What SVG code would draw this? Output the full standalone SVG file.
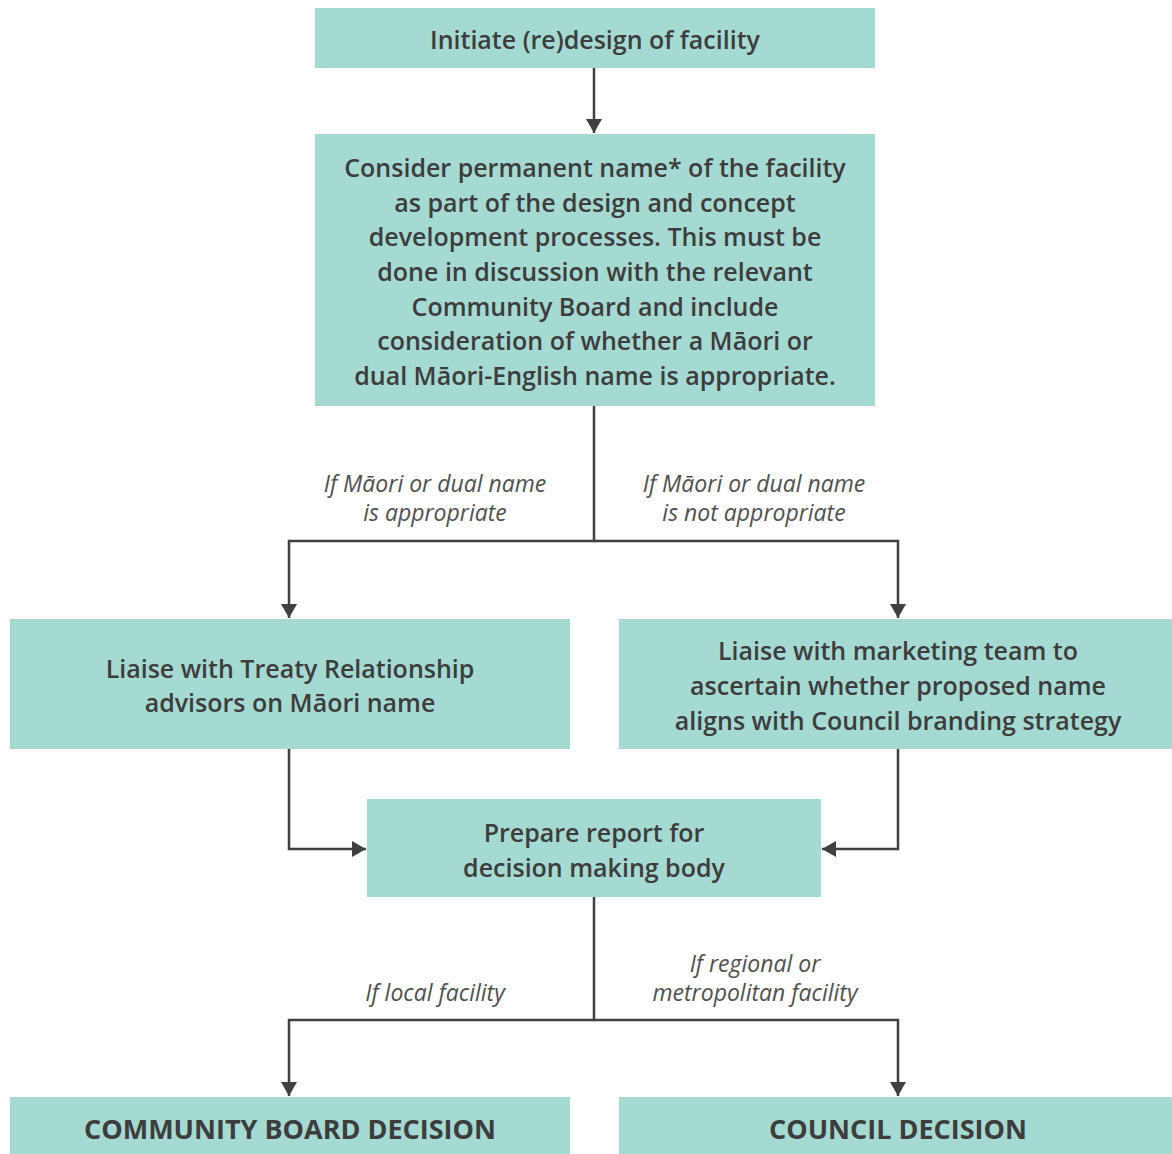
<svg xmlns="http://www.w3.org/2000/svg" width="1172" height="1154" viewBox="0 0 1172 1154">
<style>
.box{fill:#a5dad2}
.t{font-family:"Open Sans",Lato,sans-serif;font-weight:600;font-size:25px;fill:#3d3d3d;text-anchor:middle}
.big{font-weight:bold;font-size:27px}
.lbl{font-family:"Open Sans",Lato,sans-serif;font-style:italic;font-size:23px;fill:#505050;text-anchor:middle}
.ln{fill:none;stroke:#404040;stroke-width:2.5}
</style>
<defs>
<marker id="ah" viewBox="0 0 14 16" refX="14" refY="8" markerWidth="14" markerHeight="16" markerUnits="userSpaceOnUse" orient="auto">
<path d="M0,0 L14,8 L0,16 Z" fill="#404040"/>
</marker>
</defs>
<rect width="1172" height="1154" fill="#ffffff"/>
<g id="connectors">
<path class="ln" d="M594,68 V133" marker-end="url(#ah)"/>
<path class="ln" d="M594,406 V541 H289 V618" marker-end="url(#ah)"/>
<path class="ln" d="M594,541 H898 V618" marker-end="url(#ah)"/>
<path class="ln" d="M289,749 V849 H366" marker-end="url(#ah)"/>
<path class="ln" d="M898,749 V849 H822" marker-end="url(#ah)"/>
<path class="ln" d="M594,897 V1020 H289 V1096" marker-end="url(#ah)"/>
<path class="ln" d="M594,1020 H898 V1096" marker-end="url(#ah)"/>
</g>
<g id="labels">
<text class="lbl" x="435" y="492">If Māori or dual name</text>
<text class="lbl" x="435" y="521">is appropriate</text>
<text class="lbl" x="754" y="492">If Māori or dual name</text>
<text class="lbl" x="754" y="521">is not appropriate</text>
<text class="lbl" x="435" y="1001">If local facility</text>
<text class="lbl" x="755" y="972">If regional or</text>
<text class="lbl" x="755" y="1001">metropolitan facility</text>
</g>
<g id="n1">
<rect class="box" x="315" y="8" width="560" height="60"/>
<text class="t" x="595" y="49">Initiate (re)design of facility</text>
</g>
<g id="n2">
<rect class="box" x="315" y="134" width="560" height="272"/>
<text class="t" x="595" y="177">Consider permanent name* of the facility</text>
<text class="t" x="595" y="212">as part of the design and concept</text>
<text class="t" x="595" y="246">development processes. This must be</text>
<text class="t" x="595" y="281">done in discussion with the relevant</text>
<text class="t" x="595" y="316">Community Board and include</text>
<text class="t" x="595" y="350">consideration of whether a Māori or</text>
<text class="t" x="595" y="385">dual Māori-English name is appropriate.</text>
</g>
<g id="n3">
<rect class="box" x="10" y="619" width="560" height="130"/>
<text class="t" x="290" y="678">Liaise with Treaty Relationship</text>
<text class="t" x="290" y="712">advisors on Māori name</text>
</g>
<g id="n4">
<rect class="box" x="619" y="619" width="553" height="130"/>
<text class="t" x="898" y="660">Liaise with marketing team to</text>
<text class="t" x="898" y="695">ascertain whether proposed name</text>
<text class="t" x="898" y="730">aligns with Council branding strategy</text>
</g>
<g id="n5">
<rect class="box" x="367" y="799" width="454" height="98"/>
<text class="t" x="594" y="842">Prepare report for</text>
<text class="t" x="594" y="877">decision making body</text>
</g>
<g id="n6">
<rect class="box" x="10" y="1097" width="560" height="57"/>
<text class="t big" x="290" y="1139">COMMUNITY BOARD DECISION</text>
</g>
<g id="n7">
<rect class="box" x="619" y="1097" width="553" height="57"/>
<text class="t big" x="898" y="1139">COUNCIL DECISION</text>
</g>
</svg>
